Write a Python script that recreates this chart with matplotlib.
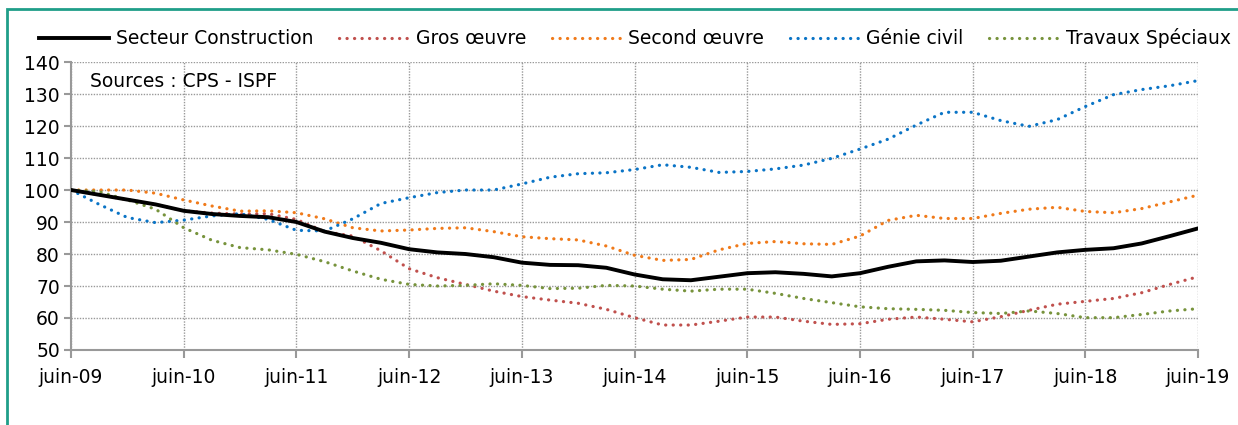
import matplotlib
matplotlib.use('Agg')
from matplotlib import pyplot as plt
from matplotlib.patches import Rectangle
import numpy as np

# quarterly index values, juin-09 .. juin-19 (base 100 = juin-09)
construction = [100, 98.5, 97, 95.5, 93.5, 92.5, 91.9, 91.5, 90, 87, 85, 83.5, 81.5, 80.5, 80, 79, 77.3,
                76.6, 76.5, 75.7, 73.6, 72.1, 71.8, 72.9, 74, 74.3, 73.8, 73, 74, 76, 77.7, 78, 77.5,
                77.9, 79.2, 80.5, 81.3, 81.8, 83.3, 85.6, 88]
gros_oeuvre = [100, 98.5, 97, 95.5, 93.5, 92.8, 92.5, 92.6, 90.8, 87, 85.6, 81, 75.4, 72.6, 70.5, 68.4, 66.7,
               65.6, 64.6, 62.7, 60.1, 57.8, 57.8, 59, 60.3, 60.3, 59, 58, 58.2, 59.6, 60.3, 59.6, 58.8,
               60.4, 62.4, 64.3, 65.2, 66.1, 67.9, 70.5, 72.9]
second_oeuvre = [100, 100, 100, 99, 96.9, 95, 93.4, 93.5, 92.9, 91, 88.2, 87.2, 87.5, 88, 88.2, 87, 85.4,
                 84.8, 84.4, 82.5, 79.6, 78, 78.3, 81.3, 83.3, 83.9, 83.2, 83, 85.6, 90.5, 92.1, 91.1, 91.1,
                 92.7, 94, 94.6, 93.3, 92.9, 94.2, 96.3, 98.4]
genie_civil = [100, 95.5, 91.4, 89.8, 90.6, 91.9, 92.6, 90.8, 87.4, 87.2, 91, 95.8, 97.6, 99.2, 100, 100, 101.9,
               104, 105.1, 105.4, 106.4, 107.9, 107.1, 105.5, 105.8, 106.6, 107.8, 109.9, 112.8, 115.9, 120.3,
               124.3, 124.3, 121.7, 119.9, 122, 126.1, 129.8, 131.4, 132.6, 134.2]
travaux_speciaux = [100, 99.5, 96.9, 94, 88.2, 84.3, 82, 81.3, 79.9, 77.6, 74.7, 72.1, 70.5, 70, 70.2, 70.7, 70.2,
                    69.2, 69.3, 70.2, 70, 69, 68.4, 69, 69, 67.7, 66.1, 64.8, 63.5, 62.9, 62.7, 62.4, 61.7,
                    61.4, 62.2, 61.4, 60.1, 60.1, 61.1, 62.2, 62.9]
tick_labels = ['juin-09', 'juin-10', 'juin-11', 'juin-12', 'juin-13', 'juin-14',
               'juin-15', 'juin-16', 'juin-17', 'juin-18', 'juin-19']

x = np.arange(len(construction)) / 4.0
dots = (0, (0.05, 2.3))
fs = 13.5

fig = plt.figure(figsize=(12.38, 4.25), dpi=100)
ax = fig.add_axes([0.0574, 0.1765, 0.9103, 0.6775])

style = dict(lw=2.3, linestyle=dots, dash_capstyle='round', zorder=3)
ax.plot(x, gros_oeuvre, color='#c0504d', label='Gros œuvre', **style)
ax.plot(x, second_oeuvre, color='#f07a1a', label='Second œuvre', **style)
ax.plot(x, genie_civil, color='#0a74c6', label='Génie civil', **style)
ax.plot(x, travaux_speciaux, color='#77933c', label='Travaux Spéciaux', **style)
ax.plot(x, construction, color='black', lw=2.8, label='Secteur Construction', zorder=4)

ax.set_xlim(0, 10)
ax.set_ylim(50, 140)
ax.set_xticks(np.arange(11))
ax.set_xticklabels(tick_labels, fontsize=fs)
ax.set_yticks(np.arange(50, 141, 10))
ax.tick_params(axis='y', labelsize=fs, length=5, color='#999999', width=1.5, pad=3)
ax.tick_params(axis='x', length=6, color='#999999', width=1.5, pad=7)
ax.grid(True, color='#999999', linestyle=(0, (1, 1)), lw=1)
for s in ['top', 'right']:
    ax.spines[s].set_visible(False)
for s in ['left', 'bottom']:
    ax.spines[s].set_color('#999999')
    ax.spines[s].set_linewidth(1.5)

ax.text(0.17, 134, 'Sources : CPS - ISPF', fontsize=fs, va='center')

h, l = ax.get_legend_handles_labels()
order = [4, 0, 1, 2, 3]
fig.legend([h[i] for i in order], [l[i] for i in order], loc='center', ncol=5,
           bbox_to_anchor=(0.513, 0.91), frameon=False, fontsize=fs, handlelength=3.7,
           columnspacing=1.35, handletextpad=0.4)

# frame: only left and top edges fall inside the image
fig.patches.append(Rectangle((0.0057, -0.1), 1.1, 1.0788, transform=fig.transFigure,
                             fill=False, edgecolor='#1f9e89', lw=2))

fig.savefig('out.png', dpi=100)
